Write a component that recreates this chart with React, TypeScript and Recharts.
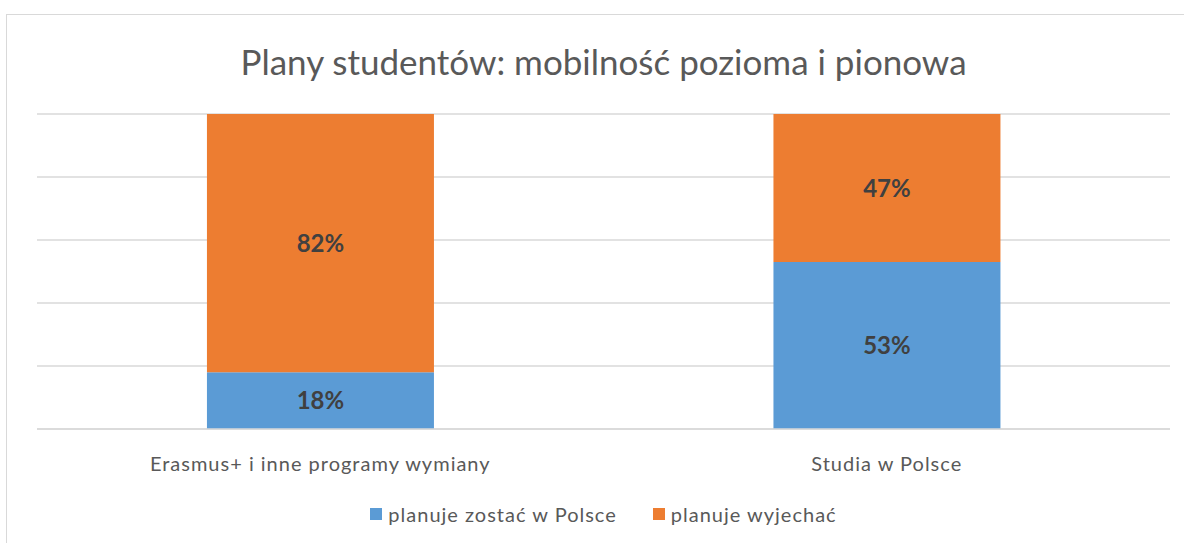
import { Bar, BarChart, CartesianGrid, LabelList, Legend, XAxis, YAxis } from "recharts";

const categories = ["Erasmus+ i inne programy wymiany", "Studia w Polsce"];
const stayValues = [18, 53];
const leaveValues = [82, 47];
const yTicks = [0, 20, 40, 60, 80, 100];

const seriesNames = {
  stay: "planuje zostać w Polsce",
  leave: "planuje wyjechać",
};

const BLUE = "#5B9BD5";
const ORANGE = "#ED7D31";
const FONT = "Lato, 'Open Sans', sans-serif";

const data = categories.map((name, i) => ({
  name,
  stay: stayValues[i],
  leave: leaveValues[i],
}));

const LegendContent = () => (
  <div
    style={{
      display: "flex",
      justifyContent: "center",
      gap: 36,
      fontFamily: FONT,
      fontSize: 20,
      letterSpacing: 1,
      color: "#595959",
      marginTop: -4,
    }}
  >
    {[
      { color: BLUE, label: seriesNames.stay },
      { color: ORANGE, label: seriesNames.leave },
    ].map((it) => (
      <div key={it.label} style={{ display: "flex", alignItems: "center" }}>
        <span
          style={{
            display: "inline-block",
            width: 12,
            height: 12,
            background: it.color,
            marginRight: 6,
          }}
        />
        {it.label}
      </div>
    ))}
  </div>
);

export default function App() {
  return (
    <div
      style={{
        position: "fixed",
        left: 0,
        top: 0,
        width: 1184,
        height: 543,
        background: "#fff",
        overflow: "hidden",
      }}
    >
      <div
        style={{
          position: "absolute",
          left: 6,
          top: 14,
          width: 1200,
          height: 560,
          border: "1px solid #d9d9d9",
        }}
      />
      <div
        style={{
          position: "absolute",
          left: 0,
          top: 40,
          width: 1207,
          textAlign: "center",
          fontFamily: FONT,
          fontSize: 35,
          color: "#595959",
        }}
      >
        Plany studentów: mobilność pozioma i pionowa
      </div>
      <div style={{ position: "absolute", left: 0, top: 0 }}>
        <BarChart
          width={1184}
          height={543}
          data={data}
          barCategoryGap="30%"
          margin={{ top: 114, right: 14, bottom: 0, left: 37 }}
        >
          <CartesianGrid vertical={false} stroke="#d9d9d9" strokeWidth={1.5} />
          <YAxis hide domain={[0, 100]} ticks={yTicks} />
          <XAxis
            dataKey="name"
            axisLine={{ stroke: "#d9d9d9", strokeWidth: 1.5 }}
            tickLine={false}
            height={77}
            tickMargin={22}
            tick={{ fill: "#595959", fontSize: 20, fontFamily: FONT, letterSpacing: 1 }}
          />
          <Legend verticalAlign="bottom" height={37} content={<LegendContent />} />
          <Bar dataKey="stay" stackId="a" fill={BLUE} isAnimationActive={false}>
            <LabelList
              dataKey="stay"
              position="center"
              formatter={(v: number) => `${v}%`}
              style={{ fill: "#404040", fontSize: 24, fontWeight: 700, fontFamily: FONT }}
            />
          </Bar>
          <Bar dataKey="leave" stackId="a" fill={ORANGE} isAnimationActive={false}>
            <LabelList
              dataKey="leave"
              position="center"
              formatter={(v: number) => `${v}%`}
              style={{ fill: "#404040", fontSize: 24, fontWeight: 700, fontFamily: FONT }}
            />
          </Bar>
        </BarChart>
      </div>
    </div>
  );
}
